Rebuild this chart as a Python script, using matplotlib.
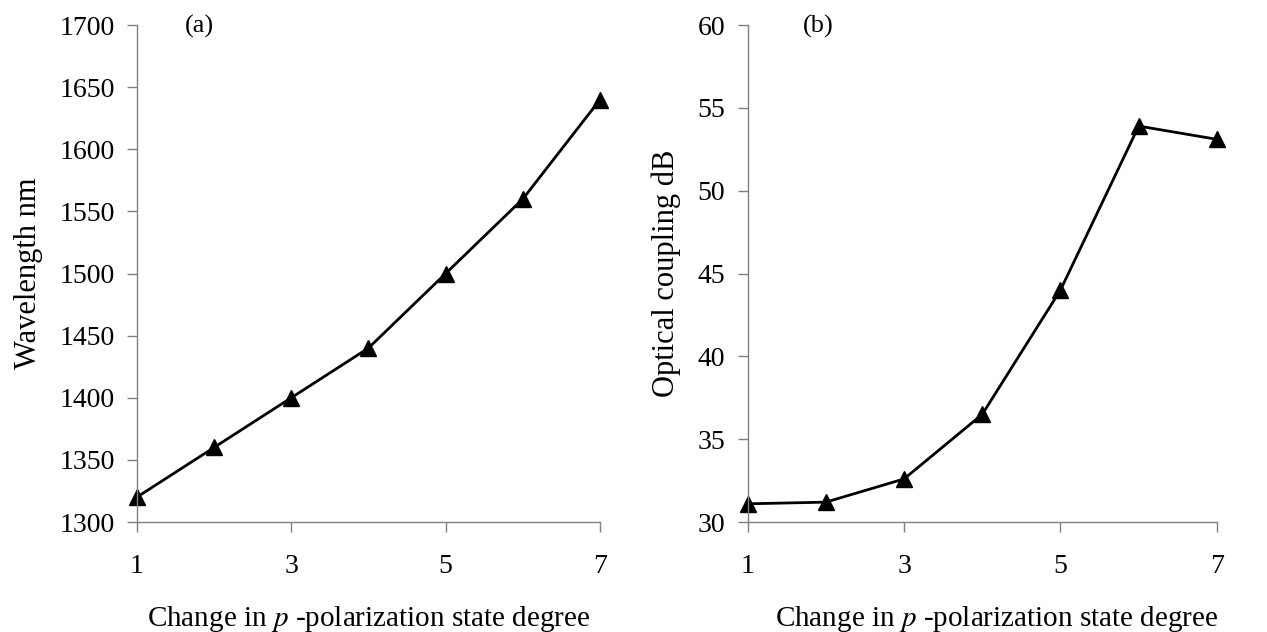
import matplotlib
matplotlib.use("Agg")
import matplotlib.pyplot as plt

# p-polarization state degree steps
x_steps = [1, 2, 3, 4, 5, 6, 7]
wavelength_nm = [1320, 1360, 1400, 1440, 1500, 1560, 1640]
coupling_db = [31.1, 31.2, 32.6, 36.5, 44.0, 53.9, 53.1]

x_ticks = [1, 3, 5, 7]
wl_ticks = [1300, 1350, 1400, 1450, 1500, 1550, 1600, 1650, 1700]
db_ticks = [30, 35, 40, 45, 50, 55, 60]

plt.rcParams['font.family'] = ['Liberation Serif', 'DejaVu Serif']
plt.rcParams['mathtext.fontset'] = 'stix'

fig = plt.figure(figsize=(12.67, 6.32), dpi=100)
ax1 = fig.add_axes([0.108, 0.174, 0.3656, 0.7864])
ax2 = fig.add_axes([0.590, 0.174, 0.3705, 0.7864])

XLABEL = "Change in $\\mathit{p}$ -polarization state degree"


def style(ax, yticks, ylabel, ypad):
    ax.set_xlim(1, 7)
    ax.set_ylim(yticks[0], yticks[-1])
    ax.set_xticks(x_ticks)
    ax.set_yticks(yticks)
    for s in ['top', 'right']:
        ax.spines[s].set_visible(False)
    for s in ['left', 'bottom']:
        ax.spines[s].set_color('#808080')
        ax.spines[s].set_linewidth(1.0)
    ax.tick_params(axis='both', direction='out', color='#808080', length=7,
                   width=1.0, labelsize=20)
    ax.tick_params(axis='y', pad=9)
    ax.tick_params(axis='x', pad=16)
    ax.set_xlabel(XLABEL, fontsize=21)
    ax.set_ylabel(ylabel, fontsize=22, labelpad=ypad)


ax1.plot(x_steps, wavelength_nm, color='black', lw=2.0, marker='^',
         markersize=11, clip_on=False)
style(ax1, wl_ticks, "Wavelength nm", 12)
ax1.xaxis.set_label_coords(0.5, -0.165)
ax1.text(0.104, 0.997, "(a)", transform=ax1.transAxes, fontsize=19, va='center')

ax2.plot(x_steps, coupling_db, color='black', lw=2.0, marker='^',
         markersize=11, clip_on=False)
style(ax2, db_ticks, "Optical coupling dB", 12)
ax2.xaxis.set_label_coords(0.53, -0.165)
ax2.text(0.117, 0.997, "(b)", transform=ax2.transAxes, fontsize=19, va='center')

fig.savefig("out.png", dpi=100)
